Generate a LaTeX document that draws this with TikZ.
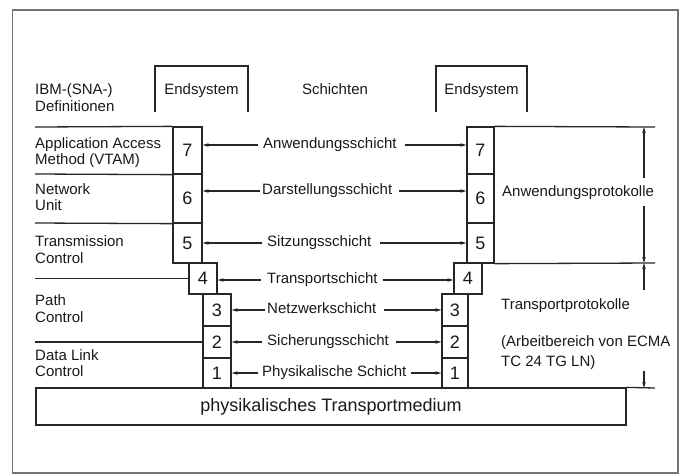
\documentclass[tikz,border=0pt]{standalone}
\usepackage{fontspec}
\setmainfont{Liberation Sans}
\usetikzlibrary{arrows.meta}
\begin{document}
\begin{tikzpicture}[x=1pt,y=-1pt,
  every node/.style={font=\fontsize{15}{16}\selectfont, inner sep=0pt, text height=10.8pt, text depth=3pt, text=black!90},
  ln/.style={line width=1.3pt, draw=black!85},
  numbox/.style={draw=black!85, line width=1.3pt, font=\fontsize{18}{19}\selectfont, text height=12.9pt, text depth=0pt},
  lbl/.style={anchor=west},
  arr/.style={ln, -{Stealth[length=6pt,width=3.5pt]}}
]
\useasboundingbox (0,0) rectangle (683,475);
% outer frame
\draw[line width=1.2pt, black!55] (12.5,10) rectangle (678,473);

% header
\node[anchor=west] (ibm1) at (35,91) {IBM-(SNA-)};
\node[anchor=west] (ibm2) at (35,108) {Definitionen};
\node (E1) at (201.5,91) {Endsystem};
\node (S) at (335,91) {Schichten};
\node (E2) at (481.5,91) {Endsystem};
\draw[ln] (155,112) |- (248,66) -- (248,112);
\draw[ln] (436,112) |- (527,66) -- (527,112);

% left stack
\node[numbox, minimum width=29pt, minimum height=47pt] (L7) at (187.5,150.5) {7};
\node[numbox, minimum width=29pt, minimum height=49pt] (L6) at (187.5,198.5) {6};
\node[numbox, minimum width=29pt, minimum height=40pt] (L5) at (187.5,243) {5};
\node[numbox, minimum width=28pt, minimum height=31pt] (L4) at (203,278.5) {4};
\node[numbox, minimum width=28pt, minimum height=32pt] (L3) at (217,310) {3};
\node[numbox, minimum width=28pt, minimum height=32pt] (L2) at (217,342) {2};
\node[numbox, minimum width=28pt, minimum height=30pt] (L1) at (217,373) {1};

% right stack
\node[numbox, minimum width=27pt, minimum height=47pt] (R7) at (480.5,150.5) {7};
\node[numbox, minimum width=27pt, minimum height=49pt] (R6) at (480.5,198.5) {6};
\node[numbox, minimum width=27pt, minimum height=40pt] (R5) at (480.5,243) {5};
\node[numbox, minimum width=28pt, minimum height=31pt] (R4) at (468,278.5) {4};
\node[numbox, minimum width=26pt, minimum height=32pt] (R3) at (455,310) {3};
\node[numbox, minimum width=26pt, minimum height=32pt] (R2) at (455,342) {2};
\node[numbox, minimum width=26pt, minimum height=30pt] (R1) at (455,373) {1};

% medium
\node[draw=black!85, line width=1.3pt, minimum width=590pt, minimum height=37pt,
      font=\fontsize{18}{19}\selectfont, text height=12.9pt, text depth=3.8pt] (M) at (331,406.5) {physikalisches Transportmedium};

% left SNA texts and separators
\node[anchor=west] (a1) at (35,145) {Application Access};
\node[anchor=west] (a2) at (35,161) {Method (VTAM)};
\node[anchor=west] (b1) at (35,191) {Network};
\node[anchor=west] (b2) at (35,207) {Unit};
\node[anchor=west] (c1) at (35,243) {Transmission};
\node[anchor=west] (c2) at (35,260) {Control};
\node[anchor=west] (d1t) at (35,302) {Path};
\node[anchor=west] (d2t) at (35,319) {Control};
\node[anchor=west] (e1) at (35,357) {Data Link};
\node[anchor=west] (e2) at (35,373) {Control};

\coordinate (h1) at (35,127);
\coordinate (h2) at (35,174);
\coordinate (h3) at (35,223);
\coordinate (h4) at (35,278.5);
\coordinate (h5) at (35,342);
\draw[ln] (h1) -- (L7.north west);
\draw[ln] (h2) -- (L7.south west);
\draw[ln] (h3) -- (L6.south west);
\draw[ln] (h4) -- (L4.west);
\draw[ln] (h5) -- (L2.west);

% layer labels with arrows
\node[lbl] (s7) at (263,145) {Anwendungsschicht};
\node[lbl] (s6) at (262,191) {Darstellungsschicht};
\node[lbl] (s5) at (267,243) {Sitzungsschicht};
\node[lbl] (s4) at (267,280) {Transportschicht};
\node[lbl] (s3) at (267,310) {Netzwerkschicht};
\node[lbl] (s2) at (267,342) {Sicherungsschicht};
\node[lbl] (s1) at (262,373) {Physikalische Schicht};

\draw[arr, shorten <=5pt] (s7.west) -- (s7.west -| L7.east);
\draw[arr, shorten <=8pt] (s7.east) -- (s7.east -| R7.west);
\draw[arr, shorten <=2pt] (s6.west) -- (s6.west -| L6.east);
\draw[arr, shorten <=7pt] (s6.east) -- (s6.east -| R6.west);
\draw[arr, shorten <=5pt] (s5.west) -- (s5.west -| L5.east);
\draw[arr, shorten <=8pt] (s5.east) -- (s5.east -| R5.west);
\draw[arr, shorten <=6pt] (s4.west) -- (s4.west -| L4.east);
\draw[arr, shorten <=5pt] (s4.east) -- (s4.east -| R4.west);
\draw[arr, shorten <=2pt] (s3.west) -- (s3.west -| L3.east);
\draw[arr, shorten <=7pt] (s3.east) -- (s3.east -| R3.west);
\draw[arr, shorten <=5pt] (s2.west) -- (s2.west -| L2.east);
\draw[arr, shorten <=7pt] (s2.east) -- (s2.east -| R2.west);
\draw[arr, shorten <=4pt] (s1.west) -- (s1.west -| L1.east);
\draw[arr, shorten <=4pt] (s1.east) -- (s1.east -| R1.west);

% right side protocol annotations
\node[anchor=west] (p1) at (502,193) {Anwendungsprotokolle};
\node[anchor=west] (p2) at (501,306) {Transportprotokolle};
\node[anchor=west] (p3) at (501,343) {(Arbeitbereich von ECMA};
\node[anchor=west] (p4) at (501,363) {TC 24 TG LN)};

\coordinate (t1) at (655,127);
\coordinate (t2) at (655,263);
\coordinate (t3) at (655,388);
\draw[ln] (R7.north east) -- (t1);
\draw[ln] (R5.south east) -- (t2);
\draw[ln] (M.north east) -- (t3);

\coordinate (q1) at (644,178);
\coordinate (q2) at (644,206);
\coordinate (q3) at (644,290);
\coordinate (q4) at (644,371);
\draw[arr] (q1) -- (q1 |- t1);
\draw[arr] (q2) -- (q2 |- t2);
\draw[arr] (q3) -- (q3 |- t2);
\draw[arr] (q4) -- (q4 |- t3);
\end{tikzpicture}
\end{document}
